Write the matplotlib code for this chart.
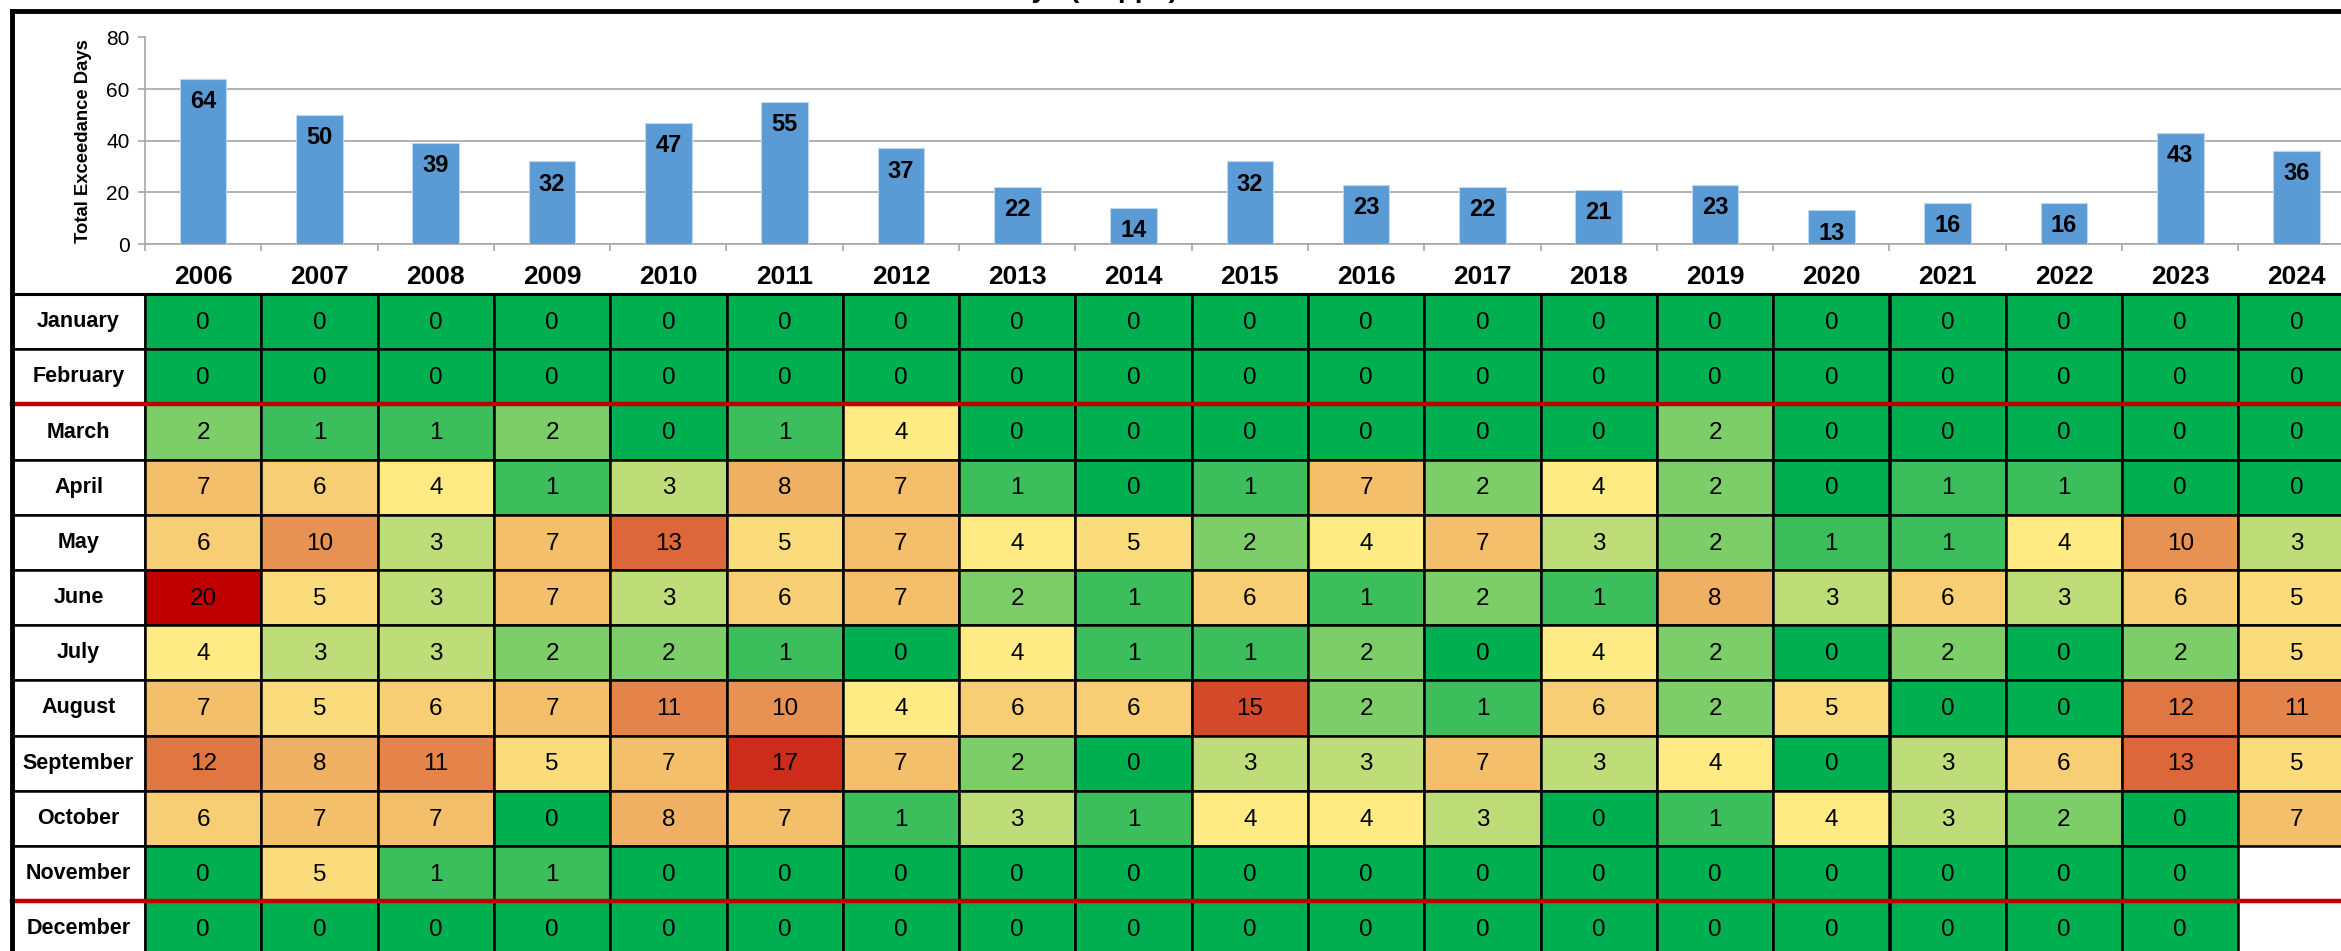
import numpy as np
import matplotlib
matplotlib.use("Agg")
import matplotlib.pyplot as plt
from matplotlib.colors import LinearSegmentedColormap, Normalize
from matplotlib.patches import Rectangle
from matplotlib.lines import Line2D

# ── data ─────────────────────────────────────────────────────────────────────
years = [2006, 2007, 2008, 2009, 2010, 2011, 2012, 2013, 2014, 2015,
         2016, 2017, 2018, 2019, 2020, 2021, 2022, 2023, 2024]
totals = [64, 50, 39, 32, 47, 55, 37, 22, 14, 32, 23, 22, 21, 23, 13, 16, 16, 43, 36]
months = ["January", "February", "March", "April", "May", "June", "July",
          "August", "September", "October", "November", "December"]

jan = [0] * 19
feb = [0] * 19
mar = [2, 1, 1, 2, 0, 1, 4, 0, 0, 0, 0, 0, 0, 2, 0, 0, 0, 0, 0]
apr = [7, 6, 4, 1, 3, 8, 7, 1, 0, 1, 7, 2, 4, 2, 0, 1, 1, 0, 0]
may = [6, 10, 3, 7, 13, 5, 7, 4, 5, 2, 4, 7, 3, 2, 1, 1, 4, 10, 3]
jun = [20, 5, 3, 7, 3, 6, 7, 2, 1, 6, 1, 2, 1, 8, 3, 6, 3, 6, 5]
jul = [4, 3, 3, 2, 2, 1, 0, 4, 1, 1, 2, 0, 4, 2, 0, 2, 0, 2, 5]
aug = [7, 5, 6, 7, 11, 10, 4, 6, 6, 15, 2, 1, 6, 2, 5, 0, 0, 12, 11]
sep = [12, 8, 11, 5, 7, 17, 7, 2, 0, 3, 3, 7, 3, 4, 0, 3, 6, 13, 5]
octo = [6, 7, 7, 0, 8, 7, 1, 3, 1, 4, 4, 3, 0, 1, 4, 3, 2, 0, 7]
nov = [0, 5, 1, 1, 0, 0, 0, 0, 0, 0, 0, 0, 0, 0, 0, 0, 0, 0, None]
dec = [0, 0, 0, 0, 0, 0, 0, 0, 0, 0, 0, 0, 0, 0, 0, 0, 0, 0, None]
table = [jan, feb, mar, apr, may, jun, jul, aug, sep, octo, nov, dec]

# ── layout (pixels of the 2341x951 canvas) ───────────────────────────────────
W, H = 2341, 951
def fx(px): return px / W
def fy(py): return 1 - py / H

col_w = 116.3
x0, frame_x = 145, 12
x_end = x0 + col_w * len(years)
tab_top, row_h = 294, 55.2

arial = ["Liberation Sans", "DejaVu Sans"]
grey = "#A6A6A6"

fig = plt.figure(figsize=(W / 100, H / 100), dpi=100)

# title sits almost entirely above the visible area, as in the source
fig.text(fx(1178), fy(-3), "Ozone Exceedance Days (70 ppb)", ha="right", va="baseline",
         fontsize=20, fontweight="bold", family=arial)

# ── bar chart ────────────────────────────────────────────────────────────────
ax = fig.add_axes([fx(x0), fy(244), fx(x_end) - fx(x0), (244 - 37.5) / H])
x = np.arange(len(years))
bars = ax.bar(x, totals, width=0.4, color="#5B9BD5", edgecolor="#BDD7EE", linewidth=0.8, zorder=3)
for b, v in zip(bars, totals):
    ax.annotate(str(v), (b.get_x() + b.get_width() / 2, v), xytext=(0, -8),
                textcoords="offset points", ha="center", va="top",
                fontsize=17, fontweight="bold", family=arial, zorder=4)
ax.set_xlim(-0.5, len(years) - 0.5)
ax.set_ylim(0, 80)
ax.set_yticks([0, 20, 40, 60, 80])
ax.yaxis.grid(True, color=grey, linewidth=1.2, zorder=0)
ax.set_xticks(x)
ax.set_xticklabels([str(y) for y in years], fontsize=19, fontweight="bold", family=arial)
ax.set_xticks(np.arange(len(years) + 1) - 0.5, minor=True)
ax.tick_params(axis="x", which="major", length=0, pad=15)
ax.tick_params(axis="x", which="minor", length=5, color=grey, width=1.2)
ax.tick_params(axis="y", length=5, color=grey, width=1.2, labelsize=15, pad=6)
for lab in ax.get_yticklabels():
    lab.set_family(arial)
for s in ["top", "right"]:
    ax.spines[s].set_visible(False)
for s in ["left", "bottom"]:
    ax.spines[s].set_color(grey)
    ax.spines[s].set_linewidth(1.2)
ax.set_ylabel("Total Exceedance Days", fontsize=13.3, fontweight="bold", family=arial, labelpad=10)

# ── monthly table ────────────────────────────────────────────────────────────
lab_cols = (x0 - frame_x) / col_w
n_rows = len(months)
tab_bot = tab_top + row_h * n_rows
tx = fig.add_axes([fx(frame_x), fy(tab_bot), fx(x_end) - fx(frame_x), (tab_bot - tab_top) / H])
tx.set_xlim(-0.5 - lab_cols, len(years) - 0.5)
tx.set_ylim(n_rows, 0)
tx.axis("off")

cmap = LinearSegmentedColormap.from_list("excel3", [(0, "#00B050"), (0.2, "#FFEB84"), (1, "#C00000")])
norm = Normalize(0, 20)

for r, (name, vals) in enumerate(zip(months, table)):
    tx.add_patch(Rectangle((-0.5 - lab_cols, r), lab_cols, 1, facecolor="white",
                           edgecolor="black", linewidth=1.8))
    tx.text(-0.5 - lab_cols / 2, r + 0.5, name, ha="center", va="center",
            fontsize=15.5, fontweight="bold", family=arial)
    for c, v in enumerate(vals):
        if v is None:
            tx.add_patch(Rectangle((c - 0.5, r), 1, 1, facecolor="white",
                                   edgecolor="#D9D9D9", linewidth=0.8, zorder=1))
            continue
        tx.add_patch(Rectangle((c - 0.5, r), 1, 1, facecolor=cmap(norm(v)),
                               edgecolor="black", linewidth=1.8, zorder=2))
        tx.text(c, r + 0.52, str(v), ha="center", va="center", fontsize=17.5,
                family=arial, zorder=3)

# top border of the table and red season separators
tx.plot([-0.5 - lab_cols, len(years) - 0.5], [0, 0], color="black", lw=2.2, zorder=4, clip_on=False)
for yb in [2, 11]:
    tx.plot([-0.5 - lab_cols, len(years) - 0.5], [yb, yb], color="#C00000", lw=3.2, zorder=5, clip_on=False)

# outer frame
fig.add_artist(Line2D([fx(frame_x), fx(frame_x)], [fy(11), 0], transform=fig.transFigure,
                      color="black", lw=3.5))
fig.add_artist(Line2D([fx(frame_x), 1], [fy(11), fy(11)], transform=fig.transFigure,
                      color="black", lw=3.5))

fig.savefig("out.png", dpi=100)
